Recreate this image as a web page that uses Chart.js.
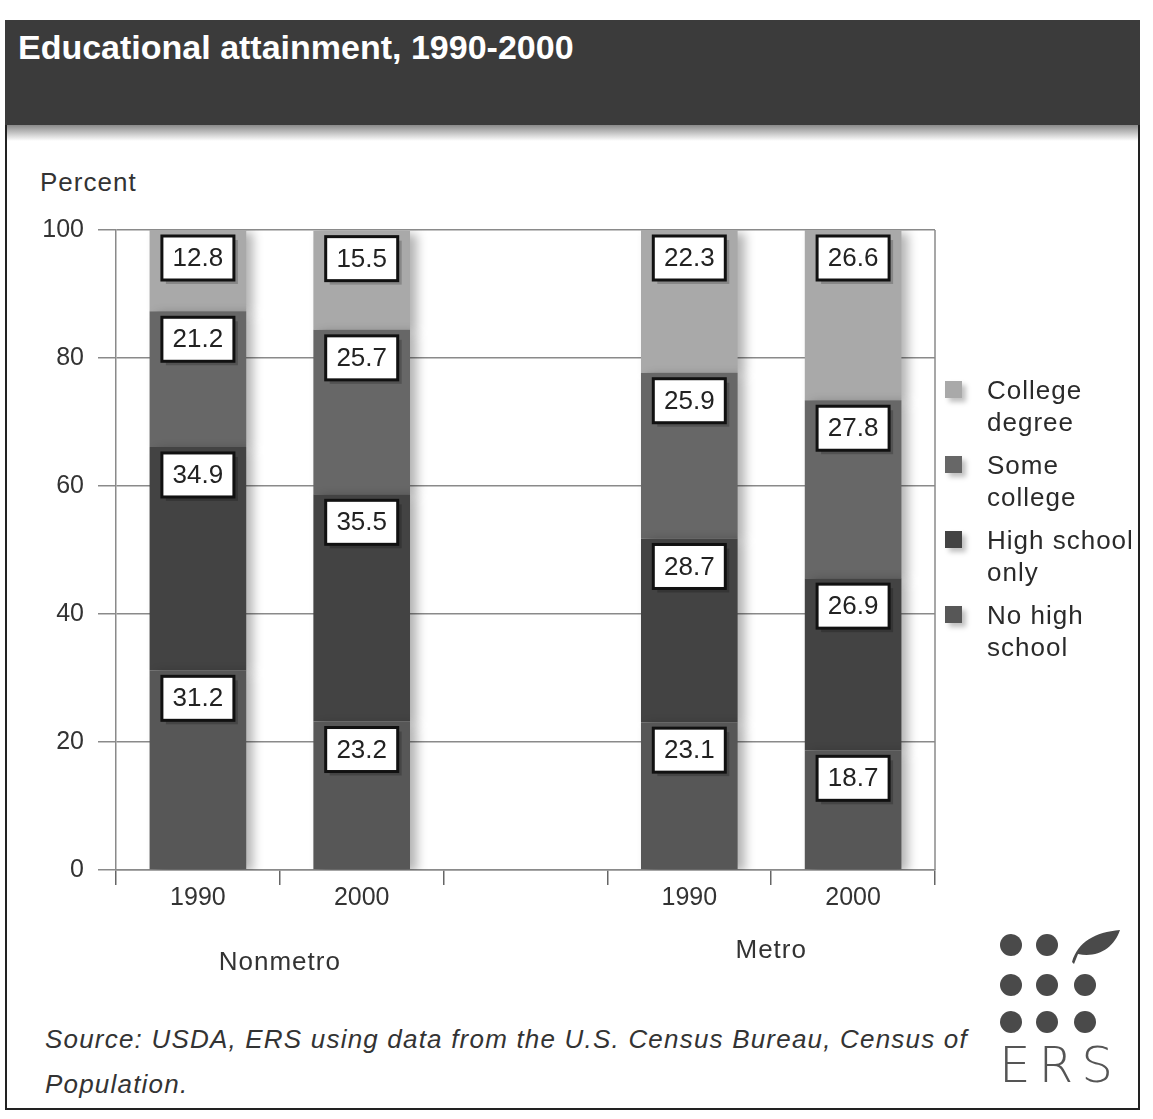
<!DOCTYPE html>
<html>
<head>
<meta charset="utf-8">
<title>Educational attainment, 1990-2000</title>
<script src="https://cdn.jsdelivr.net/npm/chart.js@4.4.0/dist/chart.umd.min.js"></script>
<style>
  body { margin: 0; background: #fff; font-family: "Liberation Sans", Arial, sans-serif; }
  #frame { position: absolute; left: 5px; top: 20px; width: 1135px; height: 1090px; border: 2px solid #222; box-sizing: border-box; }
  #titlebar { position: absolute; left: 5px; top: 20px; width: 1135px; height: 105px; background: #3b3b3b; }
  #titleshade { position: absolute; left: 7px; top: 125px; width: 1131px; height: 16px; background: linear-gradient(#8a8a8a, #fff); }
  #title { position: absolute; left: 18px; top: 28px; color: #fff; font-weight: bold; font-size: 34px; }
  #ylabel { position: absolute; left: 40px; top: 167px; font-size: 26px; letter-spacing: 1px; color: #333; }
  #wrap { position: absolute; left: 0; top: 0; width: 945px; height: 1000px; }
  #legend { position: absolute; left: 945px; top: 374px; font-size: 26px; letter-spacing: 1px; color: #2a2a2a; line-height: 32px; }
  .item { position: relative; padding-left: 42px; margin-bottom: 11px; }
  .sw { position: absolute; left: 0; top: 7px; width: 17px; height: 17px; box-shadow: 4px 4px 5px rgba(0,0,0,0.25); }
  #source { position: absolute; left: 45px; top: 1017px; font-size: 26px; letter-spacing: 1.2px; font-style: italic; color: #333; line-height: 45px; }
  #logo { position: absolute; left: 990px; top: 920px; }
</style>
</head>
<body>
<div id="frame"></div>
<div id="titlebar"></div>
<div id="titleshade"></div>
<div id="title">Educational attainment, 1990-2000</div>
<div id="ylabel">Percent</div>
<div id="wrap"><canvas id="myChart"></canvas></div>
<div id="legend"></div>
<div id="source">Source: USDA, ERS using data from the U.S. Census Bureau, Census of<br>Population.</div>
<svg id="logo" width="160" height="170" viewBox="0 0 160 170">
  <g fill="#4a4a4a">
    <circle cx="21" cy="25" r="11"/><circle cx="57" cy="25" r="11"/>
    <path d="M82 42 C 88 22, 105 12, 130 10 C 124 28, 108 38, 88 34 L 84 44 Z"/>
    <circle cx="21" cy="65" r="11"/><circle cx="57" cy="65" r="11"/><circle cx="95" cy="65" r="11"/>
    <circle cx="21" cy="102" r="11"/><circle cx="57" cy="102" r="11"/><circle cx="95" cy="102" r="11"/>
  </g>
  <text x="9" y="162" font-family="DejaVu Sans" font-weight="200" font-size="50" fill="#555" letter-spacing="8">ERS</text>
</svg>
<script>
var categories = ["1990", "2000", "", "1990", "2000"];
var groupLabels = ["Nonmetro", "Metro"];
var seriesNames = ["No high school", "High school only", "Some college", "College degree"];
var legendNames = [["No high", "school"], ["High school", "only"], ["Some", "college"], ["College", "degree"]];
var noHighSchool = [31.2, 23.2, null, 23.1, 18.7];
var highSchoolOnly = [34.9, 35.5, null, 28.7, 26.9];
var someCollege = [21.2, 25.7, null, 25.9, 27.8];
var collegeDegree = [12.8, 15.5, null, 22.3, 26.6];
var barColors = ["#575757", "#434343", "#676767", "#a9a9a9"];

var allSeries = [noHighSchool, highSchoolOnly, someCollege, collegeDegree];

// legend, top item first like the original
var legend = document.getElementById("legend");
for (var i = allSeries.length - 1; i >= 0; i--) {
  var d = document.createElement("div");
  d.className = "item";
  d.innerHTML = '<span class="sw" style="background:' + barColors[i] + '"></span>' + legendNames[i].join("<br>");
  legend.appendChild(d);
}

var boxLabels = {
  id: "boxLabels",
  beforeDatasetsDraw: function (chart) {
    // soft drop shadow on the bars
    var ctx = chart.ctx;
    ctx.save();
    ctx.shadowColor = "rgba(0,0,0,0.3)";
    ctx.shadowBlur = 10;
    ctx.shadowOffsetX = 7;
    ctx.shadowOffsetY = 3;
  },
  afterDatasetsDraw: function (chart) {
    var ctx = chart.ctx;
    ctx.restore();
    ctx.save();
    ctx.font = "26px 'Liberation Sans', Arial";
    ctx.textAlign = "center";
    ctx.textBaseline = "middle";
    chart.data.datasets.forEach(function (ds, di) {
      chart.getDatasetMeta(di).data.forEach(function (bar, j) {
        if (ds.data[j] == null) return;
        var txt = ds.data[j].toFixed(1);
        var cx = bar.x, cy = Math.max(bar.y, chart.chartArea.top) + 28;
        var w = 72, h = 44;
        ctx.fillStyle = "rgba(0,0,0,0.2)";
        ctx.fillRect(cx - w / 2 + 4, cy - h / 2 + 4, w, h);
        ctx.fillStyle = "#fff";
        ctx.fillRect(cx - w / 2, cy - h / 2, w, h);
        ctx.lineWidth = 3;
        ctx.strokeStyle = "#111";
        ctx.strokeRect(cx - w / 2, cy - h / 2, w, h);
        ctx.fillStyle = "#222";
        ctx.fillText(txt, cx, cy + 1);
      });
    });
    ctx.restore();
  },
  afterDraw: function (chart) {
    var ctx = chart.ctx, a = chart.chartArea, x = chart.scales.x;
    ctx.save();
    ctx.strokeStyle = "#8a8a8a";
    ctx.lineWidth = 1.5;
    ctx.beginPath();
    ctx.moveTo(a.right, a.top);
    ctx.lineTo(a.right, a.bottom);
    ctx.stroke();
    ctx.font = "26px 'Liberation Sans', Arial";
    ctx.letterSpacing = "1px";
    ctx.fillStyle = "#333";
    ctx.textAlign = "center";
    ctx.fillText(groupLabels[0], (x.getPixelForValue(0) + x.getPixelForValue(1)) / 2, 970);
    ctx.fillText(groupLabels[1], (x.getPixelForValue(3) + x.getPixelForValue(4)) / 2, 958);
    ctx.restore();
  }
};

new Chart(document.getElementById("myChart"), {
  type: "bar",
  data: {
    labels: categories,
    datasets: allSeries.map(function (s, i) {
      return {
        label: seriesNames[i],
        data: s,
        backgroundColor: barColors[i],
        barPercentage: 0.59,
        categoryPercentage: 1
      };
    })
  },
  options: {
    responsive: true,
    maintainAspectRatio: false,
    animation: false,
    layout: { padding: { left: 30, top: 230, right: 10, bottom: 0 } },
    plugins: { legend: { display: false }, tooltip: { enabled: false } },
    scales: {
      x: {
        stacked: true,
        afterFit: function (s) { s.height = 130; },
        grid: { offset: true, drawOnChartArea: false, color: "#666", tickLength: 15, lineWidth: 1.5 },
        border: { color: "#8a8a8a", width: 1.5 },
        ticks: { color: "#333", font: { size: 25, family: "'Liberation Sans', Arial" }, padding: -2 }
      },
      y: {
        stacked: true,
        min: 0,
        max: 100,
        afterFit: function (s) { s.width = 86; },
        grid: { color: "#8a8a8a", lineWidth: 1.5, tickLength: 18 },
        border: { color: "#8a8a8a", width: 1.5 },
        ticks: { stepSize: 20, color: "#333", font: { size: 25, family: "'Liberation Sans', Arial" }, padding: 14 }
      }
    }
  },
  plugins: [boxLabels]
});
</script>
</body>
</html>
